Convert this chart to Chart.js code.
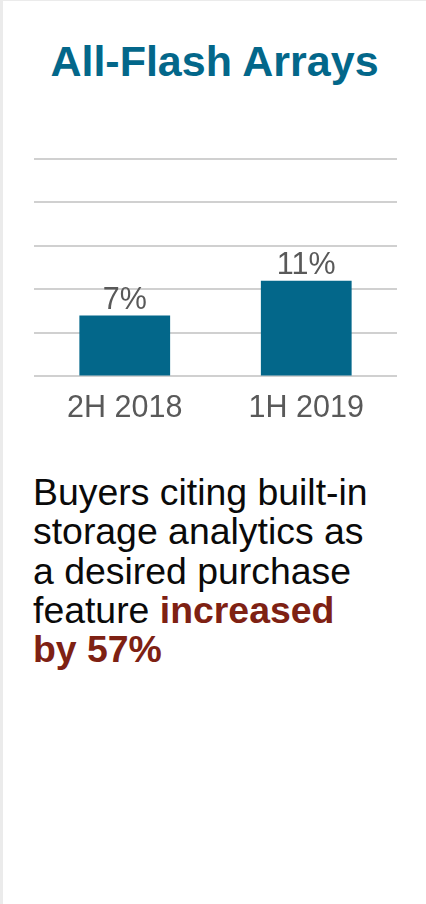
<!DOCTYPE html>
<html>
<head>
<meta charset="utf-8">
<script src="https://cdn.jsdelivr.net/npm/chart.js@4"></script>
<style>
  html, body { margin: 0; padding: 0; background: #fff; }
  body { width: 426px; height: 904px; position: relative; overflow: hidden;
         font-family: "Liberation Sans", Arial, sans-serif; }
  .frame { position: absolute; left: 0; top: 0; width: 423px; height: 903px;
           border-left: 3px solid #ebebeb; border-top: 1px solid #ebebeb; }
  h1 { position: absolute; left: 3px; right: 0; top: 40px; margin: 0;
       text-align: center; font-size: 43px; line-height: 43px; font-weight: bold; color: #03678a; }
  .chart-box { position: absolute; left: 0; top: 130px; width: 426px; height: 303px; }
  .note { position: absolute; left: 33px; top: 473px; margin: 0;
          font-size: 37.4px; line-height: 39.3px; color: #0a0a0a; }
  .note b { color: #7e2113; }
</style>
</head>
<body>
<div class="frame"></div>
<h1>All-Flash Arrays</h1>
<div class="chart-box"><canvas id="chart"></canvas></div>
<p class="note">Buyers citing built-in<br>storage analytics as<br>a desired purchase<br>feature <b>increased<br>by 57%</b></p>

<script>
// data
const periods = ['2H 2018', '1H 2019'];
const buyerShare = [7, 11];
const yTicks = [0, 5, 10, 15, 20, 25];

const BAR_COLOR = '#03678a';
const TEXT_GRAY = '#595959';
const FONT = '"Liberation Sans", Arial, sans-serif';

// value labels above the bars
const valueLabels = {
  id: 'valueLabels',
  afterDatasetsDraw(chart) {
    const ctx = chart.ctx;
    const meta = chart.getDatasetMeta(0);
    ctx.save();
    ctx.fillStyle = TEXT_GRAY;
    ctx.font = '30.5px ' + FONT;
    ctx.textAlign = 'center';
    ctx.textBaseline = 'alphabetic';
    meta.data.forEach((bar, i) => {
      ctx.fillText(buyerShare[i] + '%', bar.x, bar.y - 7);
    });
    ctx.restore();
  }
};

new Chart(document.getElementById('chart'), {
  type: 'bar',
  data: {
    labels: periods,
    datasets: [{
      data: buyerShare,
      backgroundColor: BAR_COLOR,
      borderWidth: 0,
      barPercentage: 0.5,
      categoryPercentage: 1
    }]
  },
  options: {
    responsive: true,
    maintainAspectRatio: false,
    animation: false,
    layout: { padding: { left: 34, right: 29, top: 29, bottom: 0 } },
    plugins: {
      legend: { display: false },
      tooltip: { enabled: false }
    },
    scales: {
      x: {
        grid: { display: false },
        border: { display: false },
        ticks: { color: TEXT_GRAY, font: { family: FONT, size: 30.5 }, padding: 6, maxRotation: 0 }
      },
      y: {
        min: yTicks[0],
        max: yTicks[yTicks.length - 1],
        afterBuildTicks: axis => { axis.ticks = yTicks.map(v => ({ value: v })); },
        grid: { color: '#d0d0d0', lineWidth: 2, drawTicks: false },
        border: { display: false },
        ticks: { display: false }
      }
    }
  },
  plugins: [valueLabels]
});
</script>
</body>
</html>
